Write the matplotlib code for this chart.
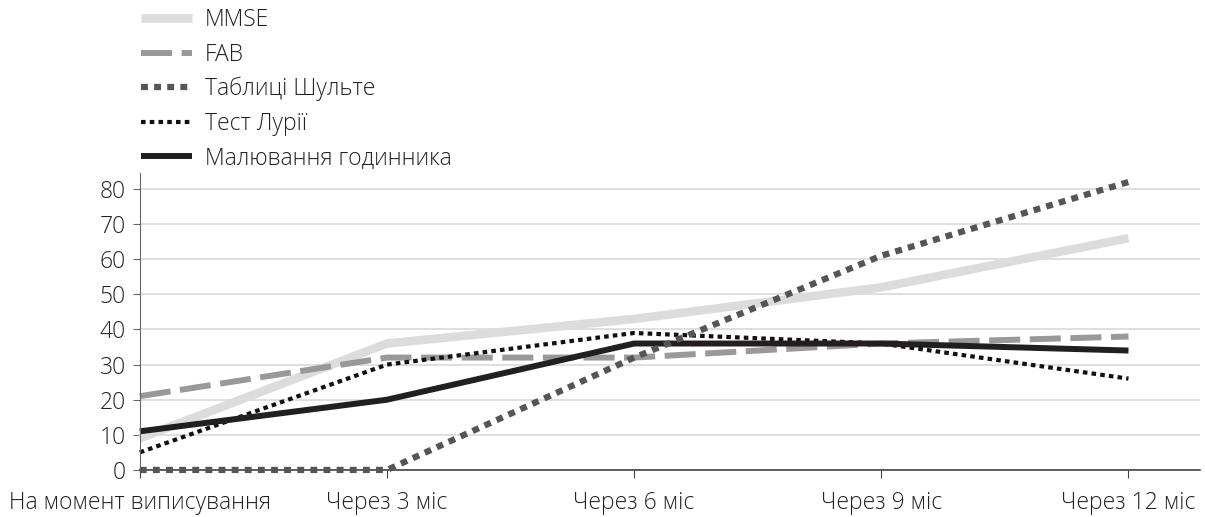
import matplotlib
matplotlib.use("Agg")
import matplotlib.pyplot as plt

categories = ["На момент виписування", "Через 3 міс", "Через 6 міс", "Через 9 міс", "Через 12 міс"]
mmse = [9, 36, 43, 52, 66]
fab = [21, 32, 32, 36, 38]
schulte = [0, 0, 32, 61, 82]
luria = [5, 30, 39, 36, 26]
clock = [11, 20, 36, 36, 34]
yticks = [0, 10, 20, 30, 40, 50, 60, 70, 80]

plt.rcParams['font.family'] = ['Open Sans', 'DejaVu Sans']
FS = 16.5
W = "light"

fig = plt.figure(figsize=(12.05, 5.17), dpi=100)
ax = fig.add_axes([0.116, 0.091, 0.88, 0.574])
x = list(range(len(categories)))

l1, = ax.plot(x, mmse, color="#dcdcdc", lw=6.2, solid_capstyle="butt", label="MMSE", clip_on=False)
l2, = ax.plot(x, fab, color="#999999", lw=4.3, dashes=(5.2, 1.6), dash_capstyle="butt", label="FAB", clip_on=False)
l3, = ax.plot(x, schulte, color="#555555", lw=4.5, dashes=(1.1, 1.0), dash_capstyle="butt",
              label="Таблиці Шульте", clip_on=False, zorder=3)
l4, = ax.plot(x, luria, color="#111111", lw=3.0, dashes=(1.1, 1.0), dash_capstyle="butt",
              label="Тест Лурії", clip_on=False)
l5, = ax.plot(x, clock, color="#231f20", lw=4.3, solid_capstyle="butt", label="Малювання годинника", clip_on=False)

ax.set_xlim(0, 4.29)
ax.set_ylim(0, 84.5)
ax.set_yticks(yticks)
ax.set_yticklabels([str(v) for v in yticks], fontsize=FS, color="#222222", fontweight=W)
ax.set_xticks(x)
ax.set_xticklabels(categories, fontsize=FS, color="#222222", fontweight=W)
ax.yaxis.grid(True, color="#d9d9d9", lw=1.2)
ax.set_axisbelow(True)
for s in ["top", "right"]:
    ax.spines[s].set_visible(False)
ax.spines["left"].set_color("#666666")
ax.spines["bottom"].set_color("#444444")
ax.spines["bottom"].set_linewidth(1.2)
ax.tick_params(axis="y", length=5, color="#666666", pad=5)
ax.tick_params(axis="x", length=6, color="#444444", pad=9)

leg = fig.legend(handles=[l1, l2, l3, l4, l5], loc="upper left", bbox_to_anchor=(0.1, 1.024),
                 frameon=False, prop={"size": FS, "weight": W}, handlelength=2.2, handletextpad=0.57,
                 labelspacing=0.45, labelcolor="#222222")

fig.savefig("out.png", dpi=100)
